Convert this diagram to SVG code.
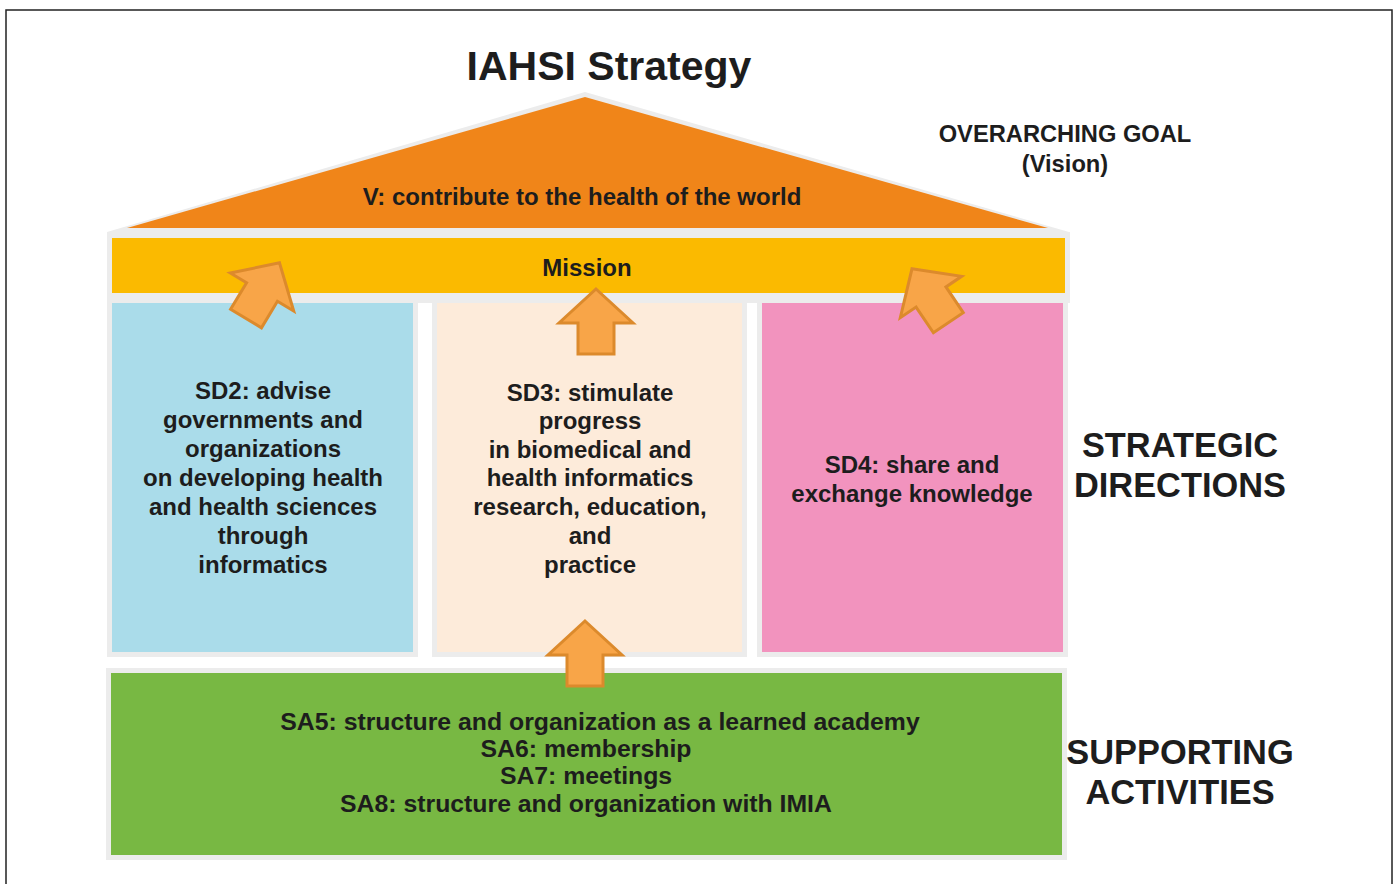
<svg xmlns="http://www.w3.org/2000/svg" width="1395" height="884" viewBox="0 0 1395 884">
<defs>
<style>
.t{font-family:"Liberation Sans",Arial,sans-serif;font-weight:bold;fill:#1d1d1d;text-anchor:middle}
.f{fill:#ececec}
.arr{fill:#F8A548;stroke:#DC8A2C;stroke-width:3;stroke-linejoin:miter}
</style>
<path id="ar" d="M0,-34 L37,0 L18,0 L18,31 L-18,31 L-18,0 L-37,0 Z"/>
</defs>
<rect x="0" y="0" width="1395" height="884" fill="#fff"/>
<rect x="6" y="10" width="1386" height="900" fill="none" stroke="#222" stroke-width="1.5"/>
<text class="t" x="609" y="80" font-size="41">IAHSI Strategy</text>

<g id="vision">
<polygon class="f" points="585,92 1069,232 107,232"/>
<polygon points="585,97 1048,228 127,228" fill="#F08519"/>
<text class="t" x="582" y="205" font-size="24">V: contribute to the health of the world</text>
</g>
<g id="mission">
<rect class="f" x="107" y="232" width="963" height="71"/>
<rect x="112" y="238" width="953" height="55" fill="#FBBA00"/>
<text class="t" x="587" y="276" font-size="24">Mission</text>
</g>
<g id="sd2">
<rect class="f" x="107" y="298" width="311" height="359"/>
<rect x="112" y="303" width="301" height="349" fill="#AADCEA"/>
<text class="t" font-size="24"><tspan x="263" y="399">SD2: advise</tspan><tspan x="263" y="428">governments and</tspan><tspan x="263" y="457">organizations</tspan><tspan x="263" y="486">on developing health</tspan><tspan x="263" y="515">and health sciences</tspan><tspan x="263" y="544">through</tspan><tspan x="263" y="573">informatics</tspan></text>
</g>
<g id="sd3">
<rect class="f" x="432" y="298" width="315" height="359"/>
<rect x="437" y="303" width="305" height="349" fill="#FDEBDA"/>
<text class="t" font-size="24"><tspan x="590" y="401">SD3: stimulate</tspan><tspan x="590" y="429">progress</tspan><tspan x="590" y="458">in biomedical and</tspan><tspan x="590" y="486">health informatics</tspan><tspan x="590" y="515">research, education,</tspan><tspan x="590" y="544">and</tspan><tspan x="590" y="573">practice</tspan></text>
</g>
<g id="sd4">
<rect class="f" x="757" y="298" width="311" height="359"/>
<rect x="762" y="303" width="301" height="349" fill="#F293BE"/>
<text class="t" font-size="24"><tspan x="912" y="473">SD4: share and</tspan><tspan x="912" y="502">exchange knowledge</tspan></text>
</g>
<g id="sa">
<rect class="f" x="106" y="668" width="961" height="192"/>
<rect x="111" y="673" width="951" height="182" fill="#78B843"/>
<text class="t" font-size="24.8"><tspan x="600" y="730">SA5: structure and organization as a learned academy</tspan><tspan x="586" y="757">SA6: membership</tspan><tspan x="586" y="784">SA7: meetings</tspan><tspan x="586" y="812">SA8: structure and organization with IMIA</tspan></text>
</g>
<g id="connectors">
<use href="#ar" class="arr" transform="translate(262,292) rotate(31)"/>
<use href="#ar" class="arr" transform="translate(596,323)"/>
<use href="#ar" class="arr" transform="translate(931,297) rotate(-34)"/>
<use href="#ar" class="arr" transform="translate(585,655)"/>
</g>
<g id="labels">
<text class="t" font-size="23.7"><tspan x="1065" y="142">OVERARCHING GOAL</tspan><tspan x="1065" y="172">(Vision)</tspan></text>
<text class="t" font-size="34.4"><tspan x="1180" y="457">STRATEGIC</tspan><tspan x="1180" y="497">DIRECTIONS</tspan></text>
<text class="t" font-size="34.4"><tspan x="1180" y="764">SUPPORTING</tspan><tspan x="1180" y="804">ACTIVITIES</tspan></text>
</g>
</svg>
